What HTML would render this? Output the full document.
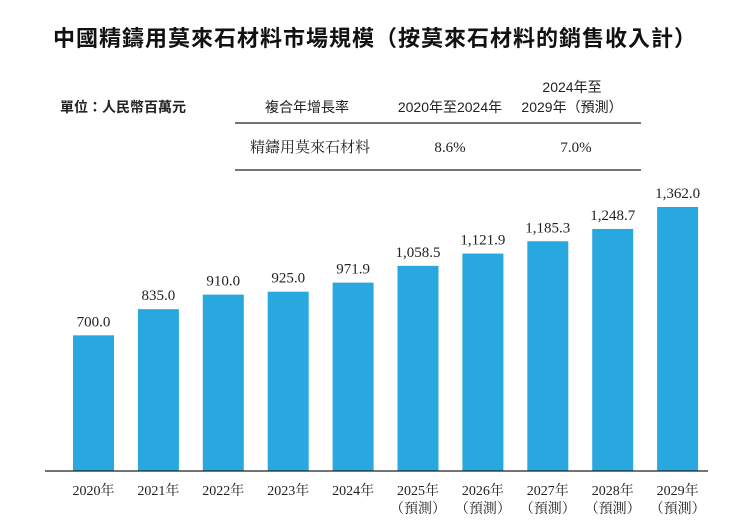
<!DOCTYPE html>
<html><head><meta charset="utf-8"><style>
body{margin:0;background:#fff;width:740px;height:518px;overflow:hidden;font-family:"Liberation Sans","Noto Sans CJK TC",sans-serif;}
</style></head><body>
<svg width="740" height="518" xmlns="http://www.w3.org/2000/svg">
<text x="375" y="46" text-anchor="middle" font-size="22" font-weight="bold" fill="#111" letter-spacing="1" font-family="Liberation Sans, Noto Sans CJK TC, sans-serif">中國精鑄用莫來石材料市場規模（按莫來石材料的銷售收入計）</text>
<text x="60" y="112" font-size="14" font-weight="bold" fill="#222" font-family="Liberation Sans, Noto Sans CJK TC, sans-serif">單位：人民幣百萬元</text>
<g font-family="Liberation Sans, Noto Sans CJK TC, sans-serif" font-size="14" fill="#222">
<text x="307" y="112" text-anchor="middle">複合年增長率</text>
<text x="450" y="112" text-anchor="middle">2020年至2024年</text>
<text x="572" y="92" text-anchor="middle">2024年至</text>
<text x="572" y="112" text-anchor="middle">2029年（預測）</text>
<line x1="235" y1="123" x2="641" y2="123" stroke="#222" stroke-width="1.3"/>
<text x="310" y="152" text-anchor="middle" font-size="15" font-family="Liberation Serif, Noto Serif CJK SC, serif">精鑄用莫來石材料</text>
<text x="450" y="152" text-anchor="middle" font-size="15" font-family="Liberation Serif, serif">8.6%</text>
<text x="576" y="152" text-anchor="middle" font-size="15" font-family="Liberation Serif, serif">7.0%</text>
<line x1="235" y1="170" x2="641" y2="170" stroke="#222" stroke-width="1.3"/>
</g>
<g id="bars"></g>
<line x1="45" y1="471" x2="708" y2="471" stroke="#222" stroke-width="1.3"/>
</svg>
<script>
const categories=["2020年","2021年","2022年","2023年","2024年","2025年","2026年","2027年","2028年","2029年"];
const forecast=[false,false,false,false,false,true,true,true,true,true];
const values=[700.0,835.0,910.0,925.0,971.9,1058.5,1121.9,1185.3,1248.7,1362.0];
const valueLabels=["700.0","835.0","910.0","925.0","971.9","1,058.5","1,121.9","1,185.3","1,248.7","1,362.0"];
const NS="http://www.w3.org/2000/svg";
const g=document.getElementById('bars');
const base=471, k=(471-207)/1362;
const xS=i=>73+i*64.9;
const yS=v=>base-v*k;
function mk(t,a,txt){const e=document.createElementNS(NS,t);for(const n in a)e.setAttribute(n,a[n]);if(txt)e.textContent=txt;g.appendChild(e);return e;}
categories.forEach((c,i)=>{
 const x=xS(i),y=yS(values[i]);
 const r=mk('rect',{x:x,y:y,width:41,height:base-y,fill:'#29a8df'});
 
 
 const t=mk('text',{x:x+20.5,y:y-9,'text-anchor':'middle','font-size':15,fill:'#222','font-family':'Liberation Serif, serif'},valueLabels[i]);
 
 
 const l=mk('text',{x:x+20.5,y:495,'text-anchor':'middle','font-size':14,fill:'#222','font-family':'Liberation Serif, Noto Serif CJK SC, serif'},c);
 
 
 if(forecast[i]){
  const f=mk('text',{x:x+20.5,y:513,'text-anchor':'middle','font-size':14,fill:'#222','font-family':'Liberation Serif, Noto Serif CJK SC, serif'},'（預測）');
  
  
 }
});
</script>
</body></html>
